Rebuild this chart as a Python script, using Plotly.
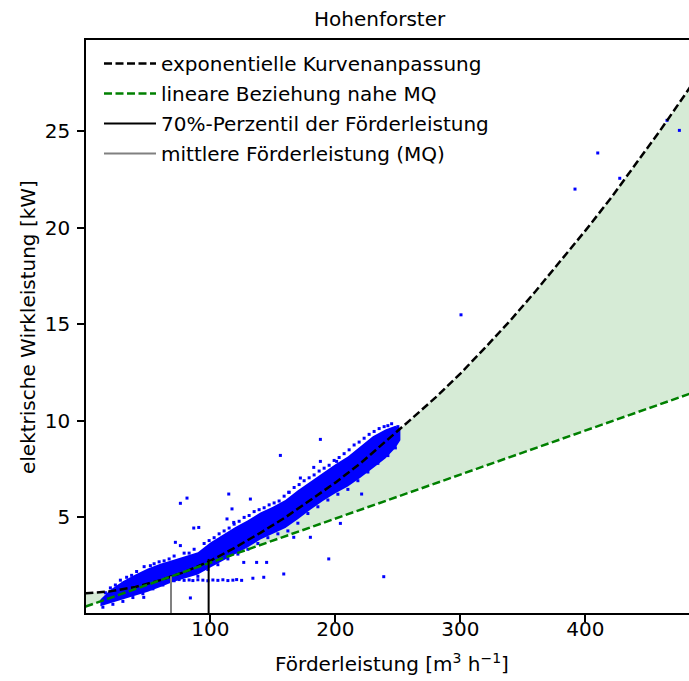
import plotly.graph_objects as go

# ---------------- data ----------------
# exponential fit curve
curve_x = [0, 20, 40, 60, 80, 100, 120, 140, 160, 180, 200, 220, 240, 260, 280,
           300, 320, 340, 360, 380, 400, 420, 440, 460, 480, 490]
curve_y = [1.07, 1.17, 1.40, 1.75, 2.19, 2.75, 3.45, 4.20, 5.00, 5.90, 6.80, 7.80,
           8.90, 10.05, 11.20, 12.45, 13.80, 15.20, 16.70, 18.25, 19.85, 21.50,
           23.25, 25.05, 26.92, 27.87]
# linear relation near MQ
lin_x = [0, 490]
lin_y = [0.38, 11.55]
# percentile markers
mq_x = [68.5, 68.5]
mq_y = [0.0, 1.95]
p70_x = [98.6, 98.6]
p70_y = [0.0, 2.85]

# dense core of the measurement cloud (envelope)
band_x = [12, 20, 30, 40, 50, 60, 70, 80, 90, 100, 110, 120, 130, 140, 150, 160,
          170, 180, 190, 200, 210, 220, 230, 240, 248, 252]
band_lo = [0.40, 0.55, 0.75, 0.95, 1.15, 1.40, 1.65, 1.85, 2.05, 2.40, 2.75, 3.10,
           3.45, 3.85, 4.15, 4.45, 4.90, 5.40, 5.85, 6.25, 6.60, 7.05, 7.55, 8.05,
           8.60, 9.00]
band_hi = [0.75, 1.25, 1.70, 2.05, 2.35, 2.60, 2.80, 3.00, 3.20, 3.70, 4.10, 4.50,
           4.85, 5.25, 5.55, 5.90, 6.40, 6.85, 7.30, 7.75, 8.15, 8.70, 9.20, 9.55,
           9.75, 9.60]

# individual measurement points (outliers, edges, horizontal row)
pts_x = [465.3, 475.2, 409.9, 391.7, 427.5, 300.5, 238.7, 156, 188, 76, 81.3, 188,
         201, 114.7, 132, 117.3, 113.3, 86.7, 90.7, 118.7, 162.7, 172, 72, 76, 46.7,
         84, 194.7, 158.7, 142.7, 134, 221, 204, 180, 166.7, 145, 137, 126.7, 182.7,
         # upper edge
         16, 24, 33, 41, 47, 55, 63, 71, 79, 87, 95, 103, 111, 119, 127, 135, 143,
         151, 159, 167, 175, 183, 191, 199, 207, 215, 223, 231, 239, 245, 250,
         20, 28, 37, 52, 59, 67, 83, 99, 107, 115, 123, 131, 139, 147, 155, 163,
         171, 179, 187, 195, 203, 211, 219, 227, 235, 242,
         # lower edge
         14, 22, 30, 38, 46, 54, 62, 90, 98, 106, 114, 122, 130, 138, 146, 154, 162,
         170, 178, 186, 194, 202, 210, 218, 226, 234, 242, 248,
         # horizontal row
         68, 71, 75, 79, 83, 86, 90, 94, 98, 102, 106, 110, 114, 118, 121, 125]
pts_y = [25.56, 25.04, 23.87, 22.0, 22.56, 15.49, 1.93, 8.21, 9.04, 5.73, 6.0, 7.9,
         7.9, 6.21, 5.95, 5.44, 4.92, 4.45, 4.48, 4.74, 6.3, 7.04, 3.71, 3.54, 0.86,
         0.83, 2.85, 2.07, 1.9, 1.85, 6.21, 4.69, 3.97, 3.97, 2.67, 2.67, 2.67, 7.59,
         1.1, 1.5, 1.9, 2.2, 2.45, 2.6, 2.75, 3.0, 3.15, 3.35, 3.65, 3.95, 4.3, 4.65,
         5.0, 5.3, 5.5, 5.75, 6.1, 6.55, 6.9, 7.2, 7.55, 7.95, 8.3, 8.75, 9.1, 9.45,
         9.7, 9.85, 9.7,
         1.35, 1.75, 2.0, 2.5, 2.7, 2.85, 3.15, 3.8, 4.15, 4.45, 4.8, 5.1, 5.4, 5.65,
         5.85, 6.3, 6.7, 7.05, 7.4, 7.7, 8.1, 8.5, 8.9, 9.3, 9.6, 9.75,
         0.35, 0.5, 0.65, 0.85, 1.05, 1.3, 1.5, 1.95, 2.3, 2.55, 2.85, 3.1, 3.35,
         3.65, 3.95, 4.15, 4.3, 4.7, 5.2, 5.55, 5.9, 6.2, 6.45, 6.9, 7.35, 7.8, 8.2,
         8.6,
         1.75, 1.72, 1.78, 1.74, 1.76, 1.73, 1.77, 1.75, 1.72, 1.76, 1.74, 1.77,
         1.73, 1.75, 1.78, 1.74]

x_ticks = [100, 200, 300, 400]
y_ticks = [5, 10, 15, 20, 25]

title_text = "Hohenforster"
xlabel = "Förderleistung [m<sup>3</sup> h<sup>−1</sup>]"
ylabel = "elektrische Wirkleistung [kW]"
names = ["exponentielle Kurvenanpassung", "lineare Beziehung nahe MQ",
         "70%-Perzentil der Förderleistung", "mittlere Förderleistung (MQ)"]

FONT = "DejaVu Sans"
FS = 20
DASH = "8px,3.5px"
fig = go.Figure()

# fill between linear line and curve
fig.add_trace(go.Scatter(x=lin_x, y=lin_y, mode="lines", line=dict(width=0),
                         showlegend=False, hoverinfo="skip"))
fig.add_trace(go.Scatter(x=curve_x, y=curve_y, mode="lines", line=dict(width=0),
                         fill="tonexty", fillcolor="rgba(0,128,0,0.16)",
                         showlegend=False, hoverinfo="skip"))
# dense cloud core
fig.add_trace(go.Scatter(x=band_x, y=band_lo, mode="lines", line=dict(width=0),
                         showlegend=False, hoverinfo="skip"))
fig.add_trace(go.Scatter(x=band_x, y=band_hi, mode="lines", line=dict(width=0),
                         fill="tonexty", fillcolor="#0000ff",
                         showlegend=False, hoverinfo="skip"))
# individual points
fig.add_trace(go.Scatter(x=pts_x, y=pts_y, mode="markers",
                         marker=dict(symbol="square", size=3, color="#0000ff",
                                     line=dict(width=0)),
                         showlegend=False))
# lines
fig.add_trace(go.Scatter(x=curve_x, y=curve_y, mode="lines", name=names[0],
                         line=dict(color="black", width=2.5, dash=DASH),
                         legendrank=1, legendgroup="a"))
fig.add_trace(go.Scatter(x=lin_x, y=lin_y, mode="lines", name=names[1],
                         line=dict(color="#008000", width=2.5, dash=DASH),
                         legendrank=2, legendgroup="b"))
fig.add_trace(go.Scatter(x=p70_x, y=p70_y, mode="lines", name=names[2],
                         line=dict(color="black", width=2),
                         legendrank=3, legendgroup="c"))
fig.add_trace(go.Scatter(x=mq_x, y=mq_y, mode="lines", name=names[3],
                         line=dict(color="#808080", width=2),
                         legendrank=4, legendgroup="d"))

W, H = 689, 681
l, r, t, b = 86, 0, 40, 68
pw, ph = W - l - r, H - t - b

def px2paper(px, py):
    return (px - l) / pw, (H - b - py) / ph

lgx, lgy = px2paper(99, 44)

fig.update_layout(
    width=W, height=H,
    margin=dict(l=l, r=r, t=t, b=b),
    paper_bgcolor="white", plot_bgcolor="white",
    font=dict(family=FONT, size=FS, color="black"),
    showlegend=True,
    legend=dict(x=lgx, y=lgy, xanchor="left", yanchor="top",
                bgcolor="rgba(255,255,255,0)", borderwidth=0,
                font=dict(family=FONT, size=FS, color="black"),
                tracegroupgap=1, itemwidth=52),
    xaxis=dict(range=[0.5, 482.9], tickvals=x_ticks, showgrid=False, zeroline=False,
               showline=True, linecolor="black", linewidth=1.6, mirror=True,
               ticks="outside", ticklen=7, tickwidth=1.5, tickcolor="black",
               ticklabelstandoff=-10,
               tickfont=dict(family=FONT, size=FS)),
    yaxis=dict(range=[0.05, 29.72], tickvals=y_ticks, showgrid=False, zeroline=False,
               showline=True, linecolor="black", linewidth=1.6, mirror=False,
               ticks="outside", ticklen=7, tickwidth=1.5, tickcolor="black",
               ticklabelstandoff=3,
               tickfont=dict(family=FONT, size=FS)),
)

tx, ty = px2paper(380, 19)
xx, xy = px2paper(392, 663)
yx, yy = px2paper(28, 327)
fig.add_annotation(text=title_text, x=tx, y=ty, xref="paper", yref="paper",
                   xanchor="center", yanchor="middle",
                   showarrow=False, font=dict(family=FONT, size=FS))
fig.add_annotation(text=xlabel, x=xx, y=xy, xref="paper", yref="paper",
                   xanchor="center", yanchor="middle",
                   showarrow=False, font=dict(family=FONT, size=FS))
fig.add_annotation(text=ylabel, x=yx, y=yy, xref="paper", yref="paper",
                   xanchor="center", yanchor="middle",
                   showarrow=False, textangle=-90, font=dict(family=FONT, size=FS))

fig.write_html("out.html")
